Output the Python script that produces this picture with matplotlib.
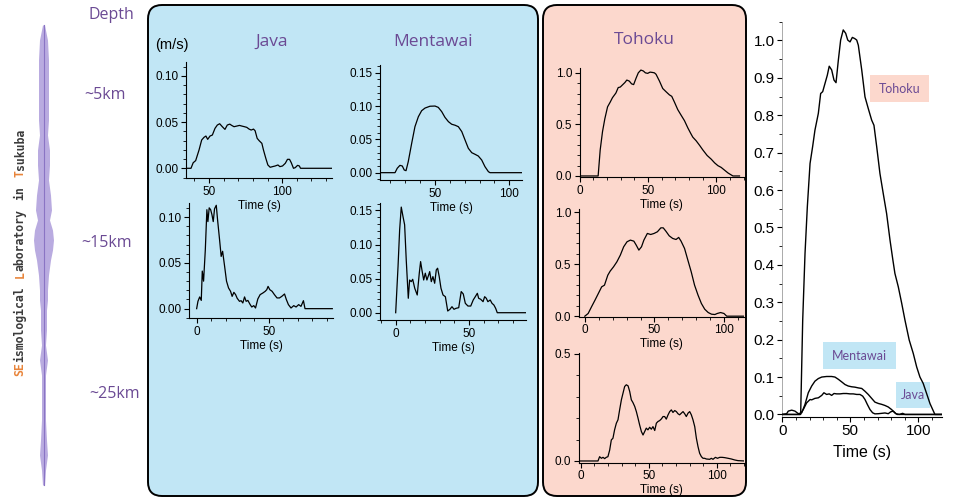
import numpy as np
import matplotlib
matplotlib.use('Agg')
import matplotlib.pyplot as plt
from matplotlib.patches import FancyBboxPatch, Rectangle
from matplotlib.ticker import MultipleLocator, FormatStrFormatter

plt.rcParams['font.family'] = ['Liberation Sans', 'DejaVu Sans']

W, H = 955, 499

# source time functions: (time s, moment rate)
java_shallow = [(34, 0), (37.7, 0), (39.2, 0.006), (40.9, 0.0083), (43.2, 0.0198), (45, 0.0306),
                (46.6, 0.0335), (47.9, 0.0349), (49.1, 0.0313), (50.7, 0.0349), (52.3, 0.036),
                (54.1, 0.0432), (55.7, 0.0468), (57.3, 0.0482), (59.1, 0.045), (60.9, 0.0421),
                (62.5, 0.0468), (64.2, 0.0478), (65.5, 0.0464), (67.1, 0.045), (69, 0.0457),
                (70.8, 0.0464), (72.4, 0.0457), (74.2, 0.045), (75.8, 0.0443), (77.4, 0.0424),
                (78.8, 0.0414), (80.4, 0.0424), (81.5, 0.0406), (82.9, 0.0324), (84.3, 0.0298),
                (86.1, 0.027), (87.2, 0.0198), (88.8, 0.0108), (90.2, 0.0036), (91.8, 0.0011),
                (93.4, 0.0018), (95.2, 0.0025), (97.1, 0.0036), (98.4, 0.0018), (100.2, 0.0025),
                (102.1, 0.0054), (103.6, 0.0097), (105, 0.0097), (106.2, 0.006), (107.7, 0),
                (108.9, 0.0007), (110.5, 0.0032), (111.7, 0.0025), (112.5, 0), (134, 0)]

java_deep = [(0, 0), (0.9, 0.008), (2.1, 0.0128), (3.2, 0.009), (3.9, 0.041), (4.8, 0.030),
             (6, 0.064), (7.1, 0.108), (7.8, 0.095), (8.7, 0.110), (9.7, 0.108), (10.6, 0.1026),
             (11.5, 0.095), (12.4, 0.109), (13.6, 0.1128), (14.5, 0.097), (15.9, 0.075),
             (17, 0.057), (18, 0.0626), (19.4, 0.046), (20.7, 0.030), (22.1, 0.0226),
             (23.5, 0.0189), (24.6, 0.0134), (25.8, 0.0178), (27, 0.0153), (28.1, 0.0113),
             (29.7, 0.008), (30.8, 0.0087), (32, 0.0062), (33.2, 0.0128), (34.3, 0.008),
             (35.5, 0.009), (37.1, 0.0044), (38.2, 0.0018), (39.6, 0.0033), (40.8, 0.0007),
             (42.4, 0.0106), (44, 0.0153), (45.9, 0.0171), (47.5, 0.0189), (48.6, 0.0207),
             (49.5, 0.0243), (50.7, 0.0207), (52.3, 0.0189), (53.9, 0.0153), (55.7, 0.0117),
             (57.4, 0.0117), (59, 0.0134), (60.9, 0.016), (62.2, 0.0098), (63.6, 0.0044),
             (65.4, 0.0007), (67.3, 0.0033), (68.9, 0.0018), (70.7, 0.0044), (72.3, 0.0025),
             (74, 0.0087), (75.1, 0), (94, 0)]

mentawai_shallow = [(13, 0), (23.1, 0), (24.6, 0.0066), (26.4, 0.011), (28, 0.01), (29.3, 0.004),
                    (30.5, 0.003), (32, 0.0165), (34.3, 0.044), (36.5, 0.069), (38.8, 0.084),
                    (41, 0.093), (43.3, 0.097), (46.6, 0.0997), (50, 0.1), (52.2, 0.098),
                    (54.5, 0.0916), (56.7, 0.083), (59, 0.0766), (61.2, 0.0727), (63.5, 0.0712),
                    (65.7, 0.069), (68, 0.0616), (70.2, 0.049), (72.4, 0.0366), (74.7, 0.03),
                    (76.9, 0.0276), (79.1, 0.025), (81.4, 0.019), (83.6, 0.009), (85.9, 0.0015),
                    (87, 0), (108.5, 0)]

mentawai_deep = [(0, 0), (1.6, 0.0677), (2.7, 0.1216), (3.8, 0.155), (5, 0.141), (6.1, 0.129),
                 (7.2, 0.0775), (8.6, 0.0212), (9.5, 0.048), (10.6, 0.0456), (11.6, 0.049),
                 (13, 0.0359), (14.7, 0.026), (16.1, 0.058), (17, 0.075), (17.9, 0.0628),
                 (19.1, 0.048), (20.2, 0.058), (21.3, 0.048), (22.5, 0.0554), (23.2, 0.0603),
                 (24.3, 0.0456), (25.4, 0.053), (26.6, 0.0432), (27.7, 0.0628), (28.6, 0.0653),
                 (29.7, 0.053), (30.9, 0.0359), (32.3, 0.026), (33.9, 0.0235), (35.5, 0.0025),
                 (37, 0.005), (38.4, 0.0088), (39.8, 0.005), (41.1, 0.0064), (43, 0.0074),
                 (44.7, 0.031), (46.1, 0.0275), (47.5, 0.0138), (49.3, 0.0098), (51.2, 0.0098),
                 (52.9, 0.0187), (54.3, 0.0235), (55.7, 0.0285), (56.6, 0.0212), (58, 0.0197),
                 (59.6, 0.0162), (60.7, 0.0235), (61.8, 0.0212), (62.9, 0.0162), (64.5, 0.0187),
                 (65.7, 0.0138), (67, 0.0113), (68.2, 0.0064), (69.3, 0), (88.9, 0)]

tohoku_shallow = [(0, 0), (13.5, 0), (15, 0.252), (16.7, 0.43), (18.4, 0.555), (20.4, 0.671),
                  (22.3, 0.716), (24, 0.76), (26.5, 0.805), (28.2, 0.858), (29.7, 0.863),
                  (31.4, 0.885), (33.1, 0.907), (34.5, 0.931), (36.3, 0.921), (38, 0.894),
                  (39.5, 0.887), (41.2, 0.947), (42.9, 1.001), (44.8, 1.028), (46.6, 1.019),
                  (48.1, 1.001), (49.8, 0.996), (51.5, 1.008), (53.2, 1.005), (54.7, 1.001),
                  (55.9, 0.987), (58.4, 0.921), (60.8, 0.849), (63.2, 0.818), (65.7, 0.787),
                  (67.4, 0.773), (69.4, 0.716), (71.8, 0.644), (74.2, 0.591), (76.7, 0.537),
                  (79.2, 0.466), (81.3, 0.413), (82.8, 0.377), (85.3, 0.341), (87.8, 0.297),
                  (90.2, 0.252), (93.3, 0.199), (96.3, 0.163), (98.8, 0.127), (101.2, 0.1),
                  (103.6, 0.083), (106.1, 0.056), (108.6, 0.029), (112.2, 0), (117, 0)]

tohoku_mid = [(0, 0), (2.4, 0.026), (4.8, 0.09), (7.3, 0.154), (9.7, 0.218), (12.1, 0.282),
              (14.1, 0.298), (16.5, 0.394), (18.2, 0.433), (20.6, 0.474), (23, 0.522),
              (25.5, 0.587), (27.9, 0.667), (30.3, 0.715), (32.7, 0.731), (35.2, 0.721),
              (36.9, 0.683), (38.8, 0.635), (40.7, 0.667), (42.4, 0.731), (44.9, 0.795),
              (47.3, 0.785), (49.7, 0.795), (52.1, 0.811), (54.6, 0.849), (56.3, 0.849),
              (58.2, 0.817), (60.6, 0.772), (63.1, 0.747), (65.5, 0.737), (67.4, 0.757),
              (69.1, 0.721), (71.6, 0.651), (74, 0.538), (76.4, 0.426), (78.8, 0.298),
              (81.3, 0.202), (83.7, 0.122), (86.1, 0.067), (88.6, 0.035), (91, 0.019),
              (93.4, 0.016), (95.1, 0.026), (97.5, 0.035), (99.9, 0.026), (101.9, 0), (116, 0)]

tohoku_deep = [(-1.2, 0), (12.7, 0), (13.9, 0.02), (15.2, 0.0125), (16.4, 0.017), (17.6, 0.011),
               (18.8, 0.017), (20, 0.02), (21.3, 0.051), (22.5, 0.098), (23.7, 0.106),
               (24.9, 0.145), (26.2, 0.176), (27.4, 0.192), (28.6, 0.238), (29.9, 0.285),
               (31.1, 0.316), (32.3, 0.347), (33.5, 0.355), (34.8, 0.35), (36, 0.324),
               (37.2, 0.285), (38.4, 0.272), (39.7, 0.254), (40.9, 0.23), (42.1, 0.2),
               (43.3, 0.168), (44.6, 0.137), (45.8, 0.121), (47, 0.137), (48.2, 0.153),
               (49.4, 0.145), (50.7, 0.157), (51.9, 0.148), (53.1, 0.16), (54.4, 0.142),
               (55.6, 0.176), (56.8, 0.184), (58, 0.188), (59.3, 0.196), (60.5, 0.207),
               (61.7, 0.207), (62.9, 0.195), (64.2, 0.215), (65.4, 0.23), (66.6, 0.238),
               (67.8, 0.226), (69.1, 0.235), (70.3, 0.23), (71.5, 0.22), (72.7, 0.215),
               (74, 0.223), (75.2, 0.23), (76.4, 0.22), (77.6, 0.207), (78.9, 0.223),
               (80.1, 0.23), (81.3, 0.215), (82.5, 0.192), (83.8, 0.16), (85, 0.106),
               (86.2, 0.067), (87.4, 0.036), (88.7, 0.02), (89.9, 0.0125), (91.1, 0.0125),
               (92.3, 0.0093), (94.8, 0.0078), (96, 0.0125), (97.2, 0.0078), (99, 0.017),
               (100.5, 0.0125), (102.2, 0.017), (103.9, 0.017), (105.8, 0.0156),
               (108.3, 0.0125), (110.7, 0.0093), (113.2, 0.0047), (115.6, 0.0016), (120.5, 0)]

# comparison panel (aligned in time)
mentawai_cmp = [(0, 0), (3.2, 0.002), (4.4, 0.009), (6.9, 0.0115), (9.3, 0.009), (11.8, 0.002),
                (14.3, 0.0045), (16.7, 0.027), (19.1, 0.058), (21.6, 0.076), (24, 0.089),
                (26.5, 0.096), (29, 0.1), (32.6, 0.1015), (36.3, 0.1015), (38.7, 0.1),
                (41.2, 0.094), (43.7, 0.087), (46.1, 0.08), (48.5, 0.076), (51, 0.074),
                (53.4, 0.073), (55.9, 0.071), (58.4, 0.0695), (60.8, 0.062), (63.2, 0.0535),
                (65.7, 0.043), (68.1, 0.033), (70.6, 0.0294), (73.1, 0.027), (75.5, 0.024),
                (77.9, 0.02), (80.4, 0.013), (82.8, 0.004), (84.5, 0), (117, 0)]

java_cmp = [(0, 0), (13, 0), (15.4, 0.013), (17.9, 0.031), (20.4, 0.04), (21.6, 0.039), (24, 0.043),
            (26.5, 0.0445), (29, 0.051), (30.6, 0.058), (32.6, 0.0535), (34.5, 0.055),
            (36.3, 0.051), (38, 0.056), (40, 0.055), (42.4, 0.055), (44.8, 0.056), (47.3, 0.056),
            (49.8, 0.055), (52.2, 0.055), (54.7, 0.0535), (57.1, 0.0535), (59.1, 0.049),
            (60.8, 0.04), (62.5, 0.027), (64.5, 0.013), (66.4, 0.0045), (68.1, 0.0016),
            (70.6, 0.002), (73.1, 0.003), (75.5, 0.004), (77.9, 0.002), (79.7, 0.007),
            (81.6, 0.009), (83.6, 0.002), (86, 0), (88.5, 0.003), (90.2, 0), (117, 0)]

# logo seismogram envelope (y position px, half amplitude px)
logo_y = [25, 40, 60, 80, 100, 120, 135, 150, 165, 180, 195, 210, 220, 230, 240, 250, 260,
          275, 290, 300, 310, 330, 345, 360, 375, 400, 420, 440, 455, 470, 485]
logo_amp = [1, 4, 5, 5, 5, 5, 4, 6, 6, 5, 7, 8, 6, 9, 10, 9, 7, 5, 4, 4, 3, 3, 2, 4, 2, 2, 2, 3,
            4, 2, 1]

depth_labels = ['Depth', '~5km', '~15km', '~25km']
region_titles = ['Java', 'Mentawai', 'Tohoku']

purple = '#6b4a94'
blue_bg = '#c1e6f5'
pink_bg = '#fcd8cd'

fig = plt.figure(figsize=(W / 100, H / 100), dpi=100)
bg = fig.add_axes([0, 0, 1, 1])
bg.set_xlim(0, W)
bg.set_ylim(H, 0)
bg.axis('off')

bg.add_patch(FancyBboxPatch((148, 5), 390, 491, boxstyle='round,pad=0,rounding_size=14',
                            fc=blue_bg, ec='black', lw=1.4))
bg.add_patch(FancyBboxPatch((543, 5), 203, 491, boxstyle='round,pad=0,rounding_size=14',
                            fc=pink_bg, ec='black', lw=1.4))

# logo
ly = np.array(logo_y)
la = np.array(logo_amp)
bg.fill_betweenx(ly, 43.5 - la, 43.5 + la, color='#b9abe0', lw=0)
bg.plot([43.5, 43.5], [logo_y[0], logo_y[-1]], color='#8a74c4', lw=0.8)

renderer = fig.canvas.get_renderer()
segments = [('SE', '#e8843a'), ('ismological', '#3b3b3b'), (None, None), ('L', '#e8843a'),
            ('aboratory', '#3b3b3b'), (None, None), ('in', '#3b3b3b'), (None, None),
            ('T', '#e8843a'), ('sukuba', '#3b3b3b')]
ypos = 376
for seg, col in segments:
    if seg is None:
        ypos -= 9
        continue
    t = bg.text(20, ypos, seg, rotation=90, ha='center', va='bottom', color=col,
                fontsize=8.3, fontweight='bold', family='DejaVu Sans Mono')
    ext = t.get_window_extent(renderer)
    ypos -= ext.height

# depth labels
for lab, (x, y) in zip(depth_labels, [(111, 15), (105, 95), (107, 243), (115, 394)]):
    bg.text(x, y, lab, ha='center', va='center', color=purple, fontsize=11.5, family='Open Sans')

for lab, (x, y) in zip(region_titles, [(272, 42), (433, 42), (644, 40)]):
    bg.text(x, y, lab, ha='center', va='center', color=purple, fontsize=12.5, family='Open Sans')

bg.text(172, 45, '(m/s)', ha='center', va='center', fontsize=10.5)


def px_axes(left, top, right, bottom):
    return fig.add_axes([left / W, 1 - bottom / H, (right - left) / W, (bottom - top) / H])


def style(ax, xlim, ylim, ymaj, ymin, fmt, size=8.5, xmin=10, pad=1.5):
    ax.set_xlim(xlim)
    ax.set_ylim(ylim)
    ax.patch.set_alpha(0)
    for s in ['top', 'right']:
        ax.spines[s].set_visible(False)
    for s in ['left', 'bottom']:
        ax.spines[s].set_linewidth(0.8)
    ax.xaxis.set_major_locator(MultipleLocator(50))
    ax.xaxis.set_minor_locator(MultipleLocator(xmin))
    ax.yaxis.set_major_locator(MultipleLocator(ymaj))
    ax.yaxis.set_minor_locator(MultipleLocator(ymin))
    ax.yaxis.set_major_formatter(FormatStrFormatter(fmt))
    ax.tick_params(which='major', length=3.5, width=0.8, labelsize=size, pad=2)
    ax.tick_params(which='minor', length=2, width=0.6)
    ax.set_xlabel('Time (s)', fontsize=size, labelpad=pad)


def draw(ax, pairs, lw=0.9):
    d = np.array(pairs)
    ax.plot(d[:, 0], d[:, 1], color='black', lw=lw, zorder=3)


ax = px_axes(186, 62, 332, 178)
draw(ax, java_shallow)
style(ax, (34.3, 134), (-0.0105, 0.115), 0.05, 0.01, '%.2f')

ax = px_axes(380, 65, 522, 180)
draw(ax, mentawai_shallow)
style(ax, (13, 108.5), (-0.011, 0.1616), 0.05, 0.01, '%.2f')

ax = px_axes(189, 203, 333, 318)
draw(ax, java_deep)
style(ax, (-5.3, 94.5), (-0.0102, 0.1153), 0.05, 0.01, '%.2f')

ax = px_axes(380, 203, 526, 320)
draw(ax, mentawai_deep)
style(ax, (-10.7, 88.9), (-0.0107, 0.161), 0.05, 0.01, '%.2f')

ax = px_axes(579.7, 68, 744, 177)
draw(ax, tohoku_shallow)
style(ax, (0, 120.3), (-0.01, 1.048), 0.5, 0.1, '%.1f')

ax = px_axes(578.7, 209, 744, 316.7)
draw(ax, tohoku_mid)
style(ax, (-4.4, 114.3), (-0.005, 1.03), 0.5, 0.1, '%.1f')

ax = px_axes(579, 353, 744, 462.7)
draw(ax, tohoku_deep)
style(ax, (-1.25, 120), (-0.008, 0.503), 0.5, 0.1, '%.1f')

# comparison panel
bg.add_patch(Rectangle((870, 75), 59, 27, fc=pink_bg, ec='none'))
bg.text(899.5, 88.5, 'Tohoku', ha='center', va='center', color=purple, fontsize=9, family='Lato')
bg.add_patch(Rectangle((822.7, 342), 73.3, 27, fc=blue_bg, ec='none'))
bg.text(859.3, 355.5, 'Mentawai', ha='center', va='center', color=purple, fontsize=9, family='Lato')
bg.add_patch(Rectangle((895.7, 382), 34.3, 26, fc=blue_bg, ec='none'))
bg.text(912.8, 395, 'Java', ha='center', va='center', color=purple, fontsize=9, family='Lato')

ax = px_axes(782.3, 21.7, 941.7, 416.7)
draw(ax, tohoku_shallow, lw=1.0)
draw(ax, mentawai_cmp, lw=1.0)
draw(ax, java_cmp, lw=1.0)
style(ax, (0, 117.2), (-0.006, 1.05), 0.1, 0.05, '%.1f', size=11, pad=5)
ax.spines['left'].set_color('#888888')
ax.spines['left'].set_linewidth(0.5)
ax.xaxis.label.set_size(11.5)

fig.savefig('out.png', dpi=100)
